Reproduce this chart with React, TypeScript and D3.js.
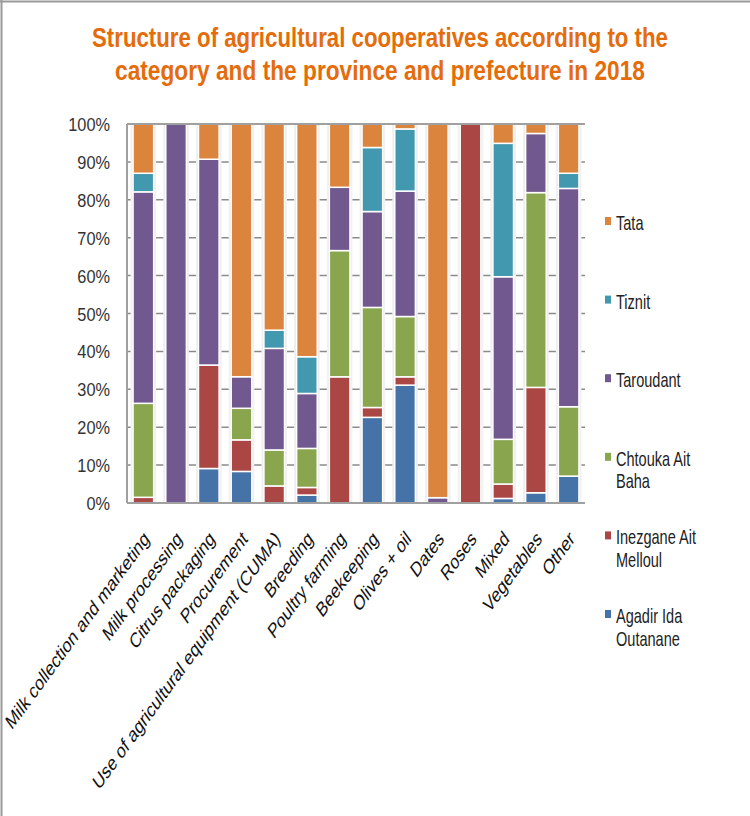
import * as d3 from 'd3';

const categories = [
  'Milk collection and marketing',
  'Milk processing',
  'Citrus packaging',
  'Procurement',
  'Use of agricultural equipment (CUMA)',
  'Breeding',
  'Poultry farming',
  'Beekeeping',
  'Olives + oil',
  'Dates',
  'Roses',
  'Mixed',
  'Vegetables',
  'Other',
];

// share of cooperatives (%) per province, one value per category
const agadir = [0, 0, 9.1, 8.33, 0, 2.1, 0, 22.6, 31.1, 0, 0, 1.2, 2.7, 7.1];
const inezgane = [1.5, 0, 27.3, 8.33, 4.5, 2.0, 33.3, 2.6, 2.2, 0, 100, 3.8, 27.8, 0];
const chtouka = [24.8, 0, 0, 8.33, 9.5, 10.3, 33.3, 26.4, 15.9, 0, 0, 11.8, 51.4, 18.3];
const taroudant = [55.8, 100, 54.3, 8.33, 26.8, 14.5, 16.7, 25.3, 33.1, 1.4, 0, 42.9, 15.6, 57.6];
const tiznit = [4.9, 0, 0, 0, 4.8, 9.7, 0, 16.9, 16.4, 0, 0, 35.2, 0, 4];
const tata = [13, 0, 9.3, 66.67, 54.4, 61.4, 16.7, 6.2, 1.3, 98.6, 0, 5.1, 2.5, 13];

const seriesNames = ['Agadir Ida Outanane', 'Inezgane Ait Melloul', 'Chtouka Ait Baha', 'Taroudant', 'Tiznit', 'Tata'];
const legendLines = [['Agadir Ida', 'Outanane'], ['Inezgane Ait', 'Melloul'], ['Chtouka Ait', 'Baha'], ['Taroudant'], ['Tiznit'], ['Tata']];
const colors = ['#4572A7', '#AA4643', '#89A54E', '#71588F', '#4198AF', '#DB843D'];
const yTicks = [0, 10, 20, 30, 40, 50, 60, 70, 80, 90, 100];
const titleLines = [
  'Structure of agricultural cooperatives according to the',
  'category  and the province and prefecture in 2018',
];

const W = 750;
const H = 816;
const plot = { left: 127, right: 585, top: 124, bottom: 503 };

export default function App() {
  const seriesValues = [agadir, inezgane, chtouka, taroudant, tiznit, tata];
  const table = categories.map((c, i) => {
    const row: Record<string, any> = { category: c };
    seriesNames.forEach((s, k) => (row[s] = seriesValues[k][i]));
    return row;
  });
  const stacked = d3.stack<Record<string, any>>().keys(seriesNames)(table);

  const x = d3
    .scaleBand()
    .domain(categories)
    .range([plot.left, plot.right])
    .paddingInner(0.37)
    .paddingOuter(0.185);
  const y = d3.scaleLinear().domain([0, 100]).range([plot.bottom, plot.top]);

  const sx = 0.727; // horizontally squeezed look of the original

  return (
    <svg
      width={W}
      height={H}
      style={{ position: 'absolute', left: 0, top: 0, background: '#fff' }}
      fontFamily="'Liberation Sans', Arial, sans-serif"
    >
      {/* outer frame */}
      <line x1={0} x2={W} y1={1.5} y2={1.5} stroke='#9a9a9a' strokeWidth={2} />
      <line x1={1.5} x2={1.5} y1={0} y2={H} stroke='#9a9a9a' strokeWidth={2} />

      {/* title */}
      <g fill='#E46C0A' fontWeight='bold' fontSize={28}>
        <text transform={`translate(92,47) scale(${sx},1)`} textLength={576 / sx} lengthAdjust='spacingAndGlyphs'>
          {titleLines[0]}
        </text>
        <text transform={`translate(115,80) scale(${sx},1)`} textLength={530 / sx} lengthAdjust='spacingAndGlyphs'>
          {titleLines[1]}
        </text>
      </g>

      {/* grid */}
      {yTicks.map((t) => (
        <line key={t} x1={plot.left} x2={plot.right} y1={y(t)} y2={y(t)} stroke='#8a8a8a' strokeWidth={1.5} />
      ))}

      {/* bar shadows */}
      {categories.map((c) => (
        <rect key={c} x={x(c)! - 2.5} width={x.bandwidth() + 5} y={plot.top} height={plot.bottom - plot.top} fill='#f1f1f1' />
      ))}
      {categories.map((c) => (
        <rect key={c + 's'} x={x(c)! - 1} width={x.bandwidth() + 2} y={plot.top} height={plot.bottom - plot.top} fill='#e2e2e2' />
      ))}

      {/* bars */}
      {stacked.map((layer, k) => (
        <g key={layer.key} fill={colors[k]}>
          {layer.map((d, i) =>
            d[1] - d[0] > 0 ? (
              <rect
                key={i}
                x={x(categories[i])}
                width={x.bandwidth()}
                y={y(d[1])}
                height={y(d[0]) - y(d[1])}
                stroke='#fff'
                strokeWidth={1.5}
              />
            ) : null
          )}
        </g>
      ))}

      {/* axes */}
      <line x1={plot.left} x2={plot.left} y1={plot.top} y2={plot.bottom} stroke='#a0a0a0' strokeWidth={2} />
      <line x1={plot.left} x2={plot.right} y1={plot.bottom} y2={plot.bottom} stroke='#a0a0a0' strokeWidth={2} />
      <line x1={plot.left} x2={plot.right} y1={plot.top} y2={plot.top} stroke='#a0a0a0' strokeWidth={2} />

      {/* y tick labels */}
      {yTicks.map((t) => (
        <text
          key={t}
          transform={`translate(110,${y(t) + 7}) scale(0.86,1)`}
          textAnchor='end'
          fontSize={19}
          fill='#333'
        >
          {t + '%'}
        </text>
      ))}

      {/* x labels */}
      {categories.map((c) => (
        <text
          key={c}
          transform={`translate(${x(c)! + x.bandwidth() / 2 + 7},540) scale(${sx},1) rotate(-45)`}
          textAnchor='end'
          fontSize={21}
          fill='#111'
        >
          {c}
        </text>
      ))}

      {/* legend */}
      {legendLines
        .map((lines, k) => ({ lines, k }))
        .reverse()
        .map(({ lines, k }, j) => {
          const base = 230 + j * 78.6;
          return (
            <g key={k}>
              <rect x={605} y={base - 13} width={6} height={8} fill={colors[k]} />
              {lines.map((l, li) => (
                <text key={li} transform={`translate(616,${base + li * 22.5}) scale(${sx},1)`} fontSize={20} fill='#222'>
                  {l}
                </text>
              ))}
            </g>
          );
        })}
    </svg>
  );
}
